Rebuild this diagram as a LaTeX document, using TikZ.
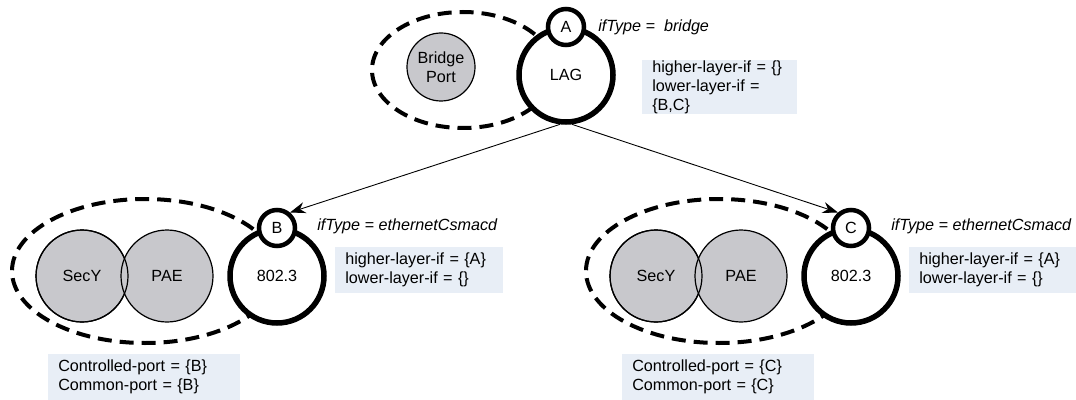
\documentclass[tikz,border=0pt]{standalone}
\usepackage{fontspec}
\setmainfont{Liberation Sans}
\usetikzlibrary{arrows.meta}

\newlength{\du}
\setlength{\du}{0.025cm}
\newcommand{\diafont}{\fontsize{11.5}{13.5}\selectfont}

\definecolor{dialinecolor}{rgb}{0.000000, 0.000000, 0.000000}
\definecolor{portgray}{rgb}{0.784314, 0.784314, 0.800000}
\definecolor{infoblue}{rgb}{0.909804, 0.933333, 0.964706}

\tikzset{
  ifnode/.style={circle, draw=dialinecolor, fill=white, line width=5.5\du, minimum size=94\du, inner sep=0pt},
  idnode/.style={circle, draw=dialinecolor, fill=white, line width=4.5\du, minimum size=36\du, inner sep=0pt},
  portnode/.style={circle, draw=dialinecolor, fill=portgray, line width=1.2\du, minimum size=92\du, inner sep=0pt, align=center},
  portline/.style={draw=dialinecolor, line width=1.2\du},
  shimline/.style={draw=dialinecolor, line width=4\du, dash pattern=on 14\du off 8\du},
  infobox/.style={fill=infoblue, inner xsep=10\du, inner ysep=0pt, align=left, anchor=north west},
  iftype/.style={anchor=west, inner sep=0pt, font=\diafont\itshape},
  stack/.style={draw=dialinecolor, line width=0.9\du, -{Stealth[length=11pt,width=8pt]}}
}

\begin{document}
\begin{tikzpicture}[font=\diafont]
\pgftransformxscale{1.000000}
\pgftransformyscale{-1.000000}
\useasboundingbox (0\du,0\du) rectangle (1076\du,400\du);
% A: bridge port over LAG
\draw[shimline] (463\du,70\du) ellipse [x radius=91\du, y radius=58\du];
\node[portnode, minimum size=68\du] (bport) at (441\du,67\du) {Bridge\\Port};
\node[ifnode] (lag) at (566\du,75\du) {LAG};
\node[idnode] (a) at (566\du,27\du) {A};
% B
\draw[shimline] (145\du,271\du) ellipse [x radius=133\du, y radius=72\du];
\node[portnode] (secyb) at (82\du,276\du) {SecY};
\node[portnode] (paeb) at (167\du,276\du) {PAE};
\draw[portline] (secyb.center) circle [radius=46\du];
\node[ifnode] (ethb) at (277\du,276\du) {802.3};
\node[idnode] (b) at (277\du,228\du) {B};
% C
\draw[shimline] (719\du,271\du) ellipse [x radius=133\du, y radius=72\du];
\node[portnode] (secyc) at (656\du,276\du) {SecY};
\node[portnode] (paec) at (741\du,276\du) {PAE};
\draw[portline] (secyc.center) circle [radius=46\du];
\node[ifnode] (ethc) at (851\du,276\du) {802.3};
\node[idnode] (c) at (851\du,228\du) {C};
% stacking
\draw[stack] (lag.-97) -- (b.50);
\draw[stack] (lag.-83) -- (c.130);
% ifType
\node[iftype] (tya) at (598\du,27\du) {ifType = \ bridge};
\node[iftype] (tyb) at (317\du,226\du) {ifType = ethernetCsmacd};
\node[iftype] (tyc) at (891\du,226\du) {ifType = ethernetCsmacd};
% stack tables
\node[infobox, text width=135\du, minimum height=54\du] (infa) at (642\du,60\du) {higher-layer-if = \{\}\\lower-layer-if =\\\{B,C\}};
\node[infobox, text width=148\du, minimum height=46\du] (infb) at (335\du,247\du) {higher-layer-if = \{A\}\\lower-layer-if = \{\}};
\node[infobox, text width=148\du, minimum height=46\du] (infc) at (909\du,247\du) {higher-layer-if = \{A\}\\lower-layer-if = \{\}};
\node[infobox, text width=172\du, minimum height=46\du] (portb) at (48\du,354\du) {Controlled-port = \{B\}\\Common-port = \{B\}};
\node[infobox, text width=172\du, minimum height=46\du] (portc) at (622\du,354\du) {Controlled-port = \{C\}\\Common-port = \{C\}};
\end{tikzpicture}
\end{document}
